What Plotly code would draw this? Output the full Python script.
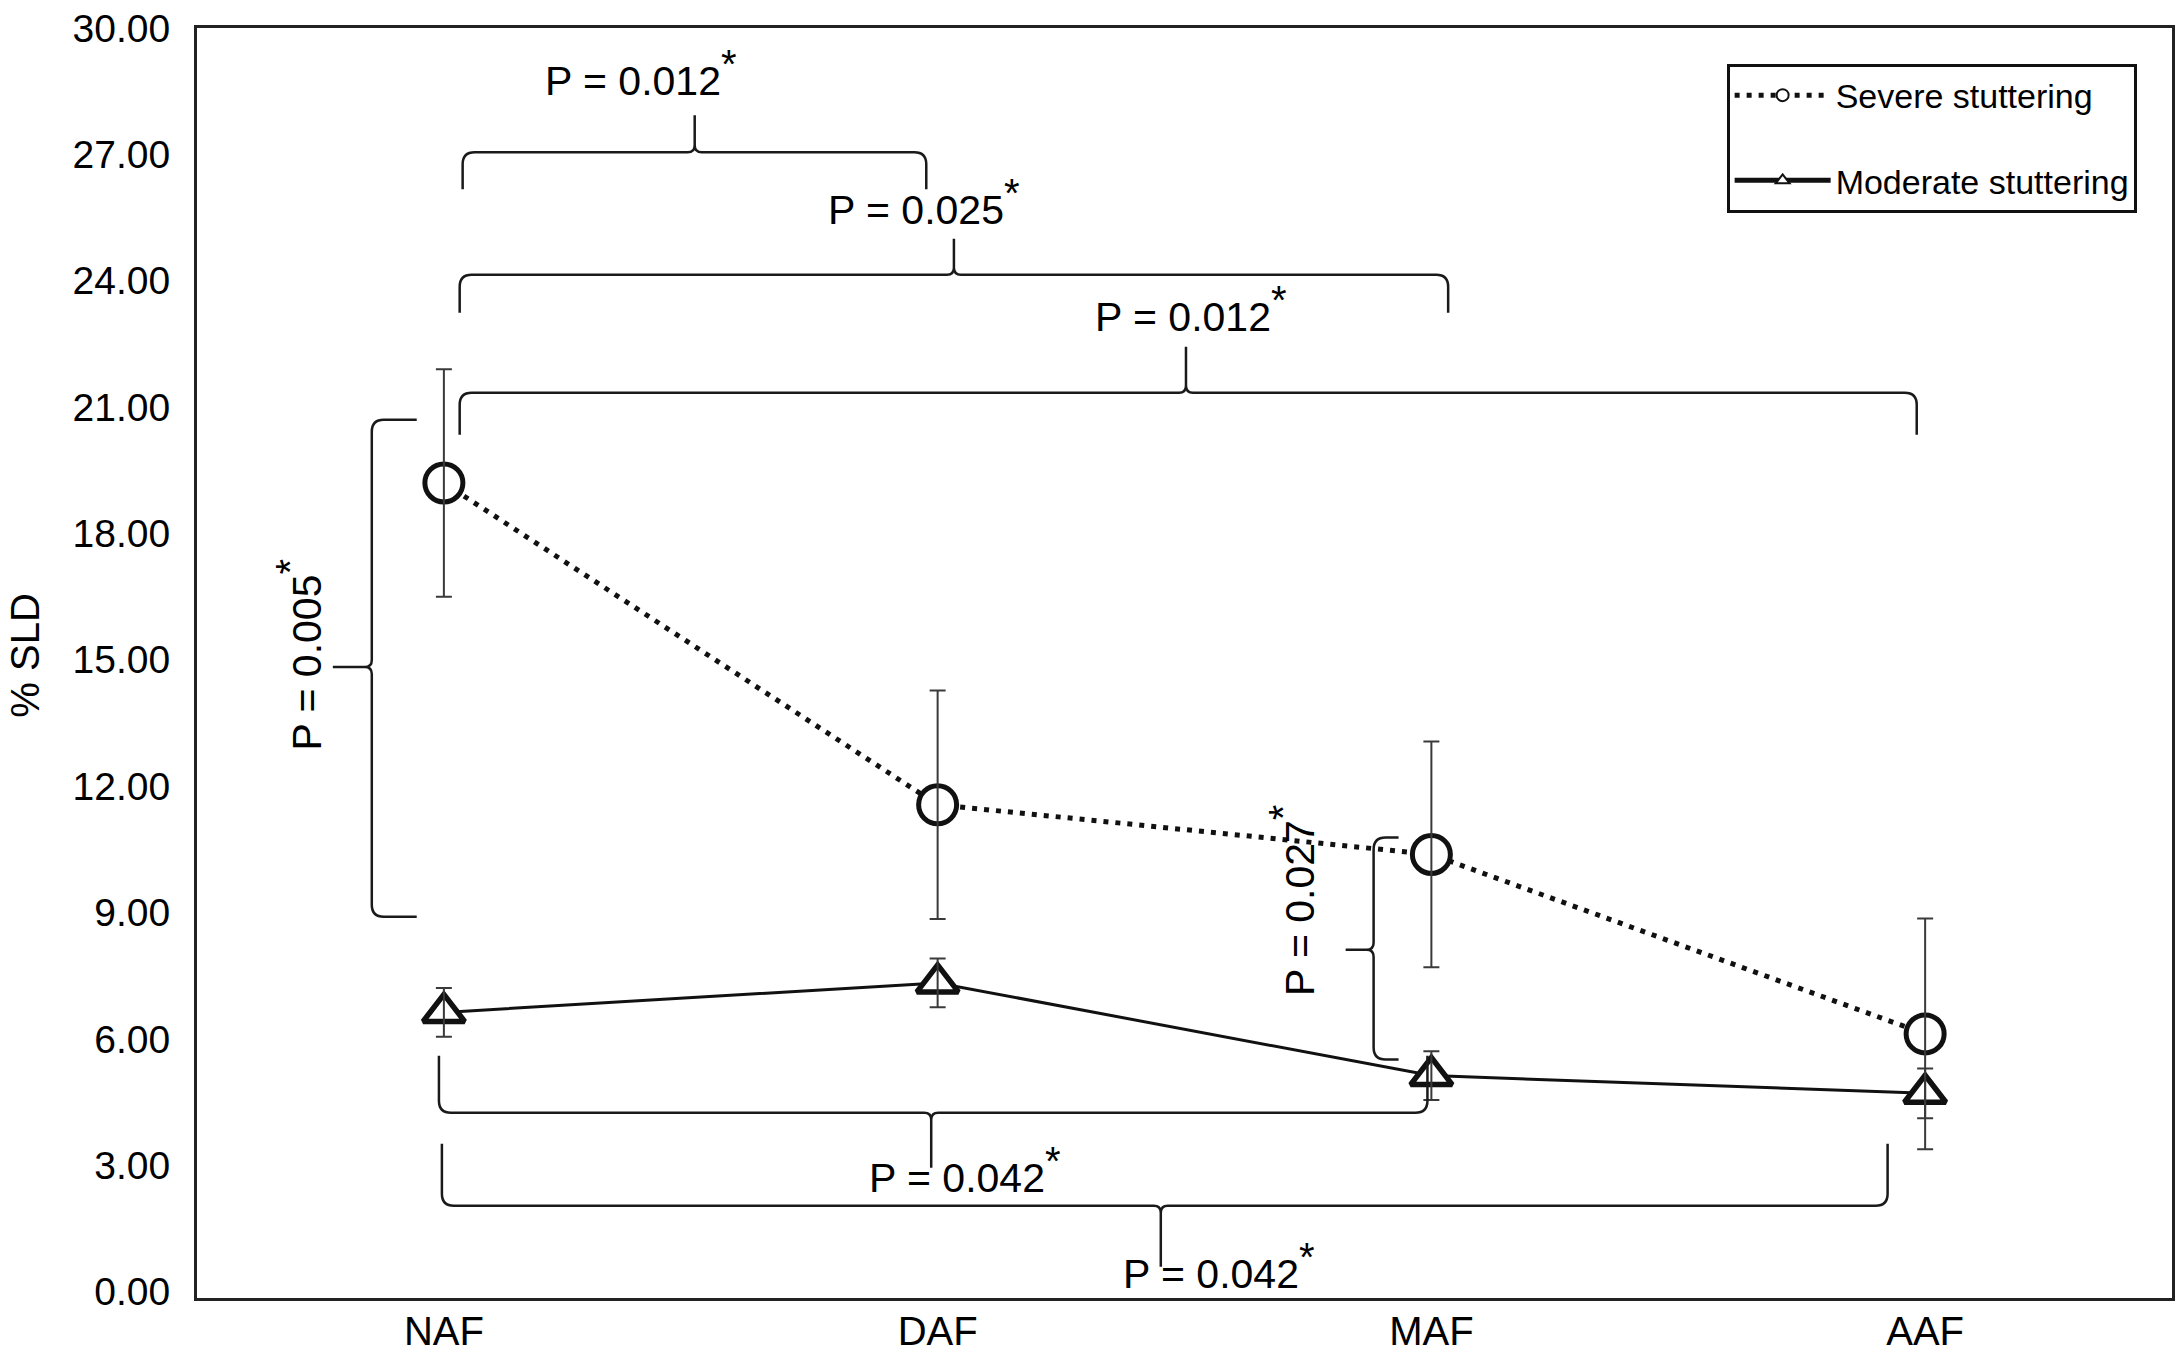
import plotly.graph_objects as go

# ---------------- data ----------------
categories = ["NAF", "DAF", "MAF", "AAF"]
severe_mean = [19.20, 11.56, 10.38, 6.12]
severe_err = [2.70, 2.71, 2.68, 2.74]
moderate_mean = [6.63, 7.33, 5.13, 4.71]
moderate_err = [0.58, 0.58, 0.58, 0.59]
y_ticks = [0, 3, 6, 9, 12, 15, 18, 21, 24, 27, 30]
y_tick_labels = [f"{v:.2f}" for v in y_ticks]
series_names = ["Severe stuttering", "Moderate stuttering"]
p_values = ["0.012", "0.025", "0.012", "0.005", "0.027", "0.042", "0.042"]

# ---------------- layout constants ----------------
W, H = 2179, 1365
M_L, M_R, M_T, M_B = 197, 4, 28, 67
X_RANGE = [-0.5, 3.5]
Y_RANGE = [-0.15, 30.0]
kx = (W - M_L - M_R) / (X_RANGE[1] - X_RANGE[0])   # px per x unit
ky = (H - M_T - M_B) / (Y_RANGE[1] - Y_RANGE[0])   # px per y unit
FONT = "Liberation Sans, Arial, Helvetica, sans-serif"
x_idx = list(range(len(categories)))

# brace geometry (orientation, start, end, level, tip position, hook px, tip px)
brace_geom = [
    ("h", 0.038, 0.977, 27.05, 0.508, -37, 37),
    ("h", 0.032, 2.034, 24.14, 1.033, -38, 36),
    ("h", 0.032, 2.983, 21.34, 1.503, -42, 46),
    ("v", 8.90, 20.70, -0.146, 14.83, 45, 39),
    ("v", 5.51, 10.78, 1.883, 8.12, 25, 28),
    ("h", -0.010, 1.992, 4.25, 0.987, 57, 55),
    ("h", -0.004, 2.924, 2.04, 1.452, 62, 61),
]
label_pos = [
    (0.399, 28.94, 0),
    (0.972, 25.88, 0),
    (1.513, 23.34, 0),
    (-0.294, 15.12, -90),
    (1.718, 9.30, -90),
    (1.055, 2.88, 0),
    (1.570, 0.60, 0),
]


def brace_path(orient, a0, a1, level, tip, hook_px, tip_px, r_px=12, rt_px=7):
    if orient == "h":
        ka, kl = kx, ky
    else:
        ka, kl = ky, kx
    s = 1 if hook_px > 0 else -1
    hook = hook_px / kl
    tipd = -s * tip_px / kl
    ra, rl = r_px / ka, s * r_px / kl
    rta, rtl = rt_px / ka, -s * rt_px / kl
    seq = [
        ("M", [(a0, level + hook)]),
        ("L", [(a0, level + rl)]),
        ("Q", [(a0, level), (a0 + ra, level)]),
        ("L", [(tip - rta, level)]),
        ("Q", [(tip, level), (tip, level + rtl)]),
        ("L", [(tip, level + tipd)]),
        ("L", [(tip, level + rtl)]),
        ("Q", [(tip, level), (tip + rta, level)]),
        ("L", [(a1 - ra, level)]),
        ("Q", [(a1, level), (a1, level + rl)]),
        ("L", [(a1, level + hook)]),
    ]
    out = []
    for cmd, pts in seq:
        coords = []
        for a, l in pts:
            x, y = (a, l) if orient == "h" else (l, a)
            coords.append(f"{x:.5f},{y:.5f}")
        out.append(cmd + " " + " ".join(coords))
    return " ".join(out)


fig = go.Figure()

# severe stuttering: dotted line + open-looking circles
fig.add_trace(go.Scatter(
    x=x_idx, y=severe_mean, mode="lines+markers", name=series_names[0],
    legendgroup="a",
    line=dict(color="#111111", width=5, dash="5px,7px"),
    marker=dict(symbol="circle", size=38, color="white",
                line=dict(color="#111111", width=5)),
))
# moderate stuttering: solid line + triangles
fig.add_trace(go.Scatter(
    x=x_idx, y=moderate_mean, mode="lines+markers", name=series_names[1],
    legendgroup="b",
    line=dict(color="#111111", width=3),
    marker=dict(symbol="triangle-up", size=36, color="white",
                line=dict(color="#111111", width=5.5)),
))
# error bars drawn on top of markers
for mean, err in ((severe_mean, severe_err), (moderate_mean, moderate_err)):
    fig.add_trace(go.Scatter(
        x=x_idx, y=mean, mode="markers", showlegend=False, hoverinfo="skip",
        marker=dict(size=1, color="rgba(0,0,0,0)"),
        error_y=dict(type="data", array=err, visible=True,
                     color="#3a3a3a", thickness=2, width=8),
    ))

shapes = []
for g in brace_geom:
    shapes.append(dict(type="path", xref="x", yref="y", path=brace_path(*g),
                       line=dict(color="#1a1a1a", width=2.5)))

STAR = "<sup><span style='font-size:40px'>*</span></sup>"
annotations = []
for (x, y, ang), p in zip(label_pos, p_values):
    annotations.append(dict(
        x=x, y=y, xref="x", yref="y", text=f"P = {p}{STAR}",
        showarrow=False, textangle=ang, xanchor="center", yanchor="middle",
        font=dict(family=FONT, size=41, color="black"),
    ))
annotations.append(dict(
    x=0, xref="paper", y=15.1, yref="y", xshift=-172, text="% SLD",
    showarrow=False, textangle=-90, xanchor="center", yanchor="middle",
    font=dict(family=FONT, size=40, color="black"),
))

fig.update_layout(
    width=W, height=H,
    margin=dict(l=M_L, r=M_R, t=M_T, b=M_B, pad=0),
    paper_bgcolor="white", plot_bgcolor="white",
    font=dict(family=FONT, color="black"),
    shapes=shapes, annotations=annotations,
    showlegend=True,
    legend=dict(
        x=0.7745, y=0.972, xanchor="left", yanchor="top",
        bgcolor="white", bordercolor="#111111", borderwidth=3,
        font=dict(family=FONT, size=34, color="black"),
        traceorder="grouped", tracegroupgap=38, itemwidth=96,
        itemsizing="constant",
    ),
)
fig.update_xaxes(
    range=X_RANGE, tickvals=x_idx, ticktext=categories,
    showgrid=False, zeroline=False, showline=True, mirror=True,
    linecolor="#222222", linewidth=3, ticks="", ticklabelstandoff=-4,
    tickfont=dict(family=FONT, size=40, color="black"),
)
fig.update_yaxes(
    range=Y_RANGE, tickvals=y_ticks, ticktext=y_tick_labels,
    showgrid=False, zeroline=False, showline=True, mirror=True,
    linecolor="#222222", linewidth=3, ticks="", ticklabelstandoff=16,
    tickfont=dict(family=FONT, size=39, color="black"),
)

fig.write_html("out.html", config={"displayModeBar": False},
               post_script="document.body.style.margin='0';document.body.style.overflow='hidden';")
